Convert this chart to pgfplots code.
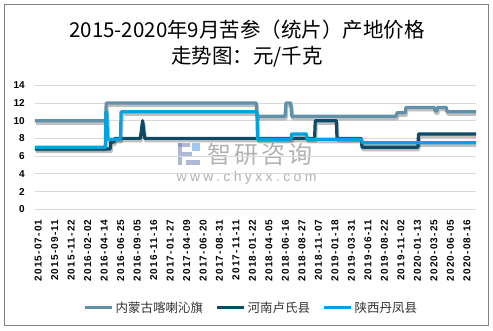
\documentclass[border=0pt]{standalone}
\usepackage{pgfplots}
\pgfplotsset{compat=1.18}
\usepackage{pgfplotstable}
\usepackage{fontspec}
\setmainfont{Liberation Sans}
\newfontfamily\cjk{Noto Sans CJK SC}
\newfontfamily\cjkwm{Noto Sans CJK SC}[LetterSpace=12]
\newfontfamily\tickfont{Liberation Sans}[LetterSpace=12]
\newfontfamily\wmfont{Liberation Sans}[LetterSpace=24]
\definecolor{sone}{RGB}{96,145,168}
\definecolor{stwo}{RGB}{12,74,102}
\definecolor{sthree}{RGB}{0,163,223}
\definecolor{gridgray}{RGB}{217,217,217}
\definecolor{framegray}{RGB}{130,130,130}
\definecolor{logoA}{RGB}{120,140,185}
\definecolor{logoB}{RGB}{120,180,230}

\pgfplotstableread{
x y
-14 10
294 10
297 12
952 12
955 10.5
1078 10.5
1082 12
1103 12
1107 10.5
1564 10.5
1567 10.9
1603 10.9
1606 11.5
1730 11.5
1733 11.1
1741 11.1
1744 11.5
1782 11.5
1785 11
1912 11
}\tabA
\pgfplotstableread{
x y
-14 6.8
314 6.8
317 7.6
331 7.6
334 8
446 8
456 10
465 8
1207 8
1210 10
1302 10
1305 8
1411 8
1414 7
1658 7
1661 8.5
1912 8.5
}\tabB
\pgfplotstableread{
x y
-14 7
293 7
296 11
299 11
303 7.9
359 7.9
362 11
955 11
958 7.9
1104 7.9
1107 8.5
1171 8.5
1174 7.9
1412 7.9
1415 7.5
1912 7.5
}\tabC

\begin{document}
\begin{tikzpicture}
\path[use as bounding box, fill=white] (0,0) rectangle (493bp,331bp);
\draw[framegray, line width=1bp] (4.5bp,5bp) rectangle (488.5bp,326.5bp);
% title
\node[font=\cjk\fontsize{20.5bp}{24bp}\selectfont] at (247bp,301bp) {2015-2020年9月苦参（统片）产地价格};
\node[font=\cjk\fontsize{20.5bp}{24bp}\selectfont] at (247bp,274.5bp) {走势图：元/千克};
% watermark
\fill[logoA, opacity=0.6] (178bp,166bp) rectangle (182bp,188bp);
\fill[logoA, opacity=0.6] (178bp,184bp) rectangle (190bp,188bp);
\fill[logoA, opacity=0.6] (182bp,175bp) rectangle (192bp,179bp);
\fill[logoB, opacity=0.7] (192bp,180bp) rectangle (200bp,188bp);
\fill[logoA, opacity=0.6] (186bp,166bp) rectangle (200bp,171bp);
\node[text=gray, opacity=0.6, font=\cjkwm\fontsize{24bp}{26bp}\selectfont] at (260bp,177bp) {智研咨询};
\node[text=gray, opacity=0.6, font=\wmfont\fontsize{14bp}{16bp}\selectfont] at (246.5bp,153bp) {www.chyxx.com};
\begin{axis}[
  at={(35bp,121.7bp)}, anchor=south west,
  scale only axis, width=441bp, height=124.1bp,
  xmin=-14, xmax=1912, ymin=0, ymax=14,
  ytick={0,2,...,14},
  xtick={0,72,...,1872},
  xticklabels={2015-07-01,2015-09-11,2015-11-22,2016-02-02,2016-04-14,2016-06-25,2016-09-05,2016-11-16,2017-01-27,2017-04-09,2017-06-20,2017-08-31,2017-11-11,2018-01-22,2018-04-05,2018-06-16,2018-08-27,2018-11-07,2019-01-18,2019-03-31,2019-06-11,2019-08-22,2019-11-02,2020-01-13,2020-03-25,2020-06-05,2020-08-16},
  ymajorgrids, grid style={color=gridgray, line width=0.8bp},
  axis line style={draw=none}, major tick length=0pt,
  /pgf/number format/assume math mode=true,
  yticklabel style={font=\bfseries\fontsize{10bp}{12bp}\selectfont, anchor=east, inner xsep=10bp},
  xticklabel style={font=\tickfont\bfseries\fontsize{10bp}{12bp}\selectfont, rotate=90, anchor=east, inner xsep=10bp, inner ysep=0pt},
  legend columns=3,
  legend style={at={(0.49,-0.793)}, anchor=center, draw=none, fill=none,
    font=\cjk\fontsize{12.5bp}{14bp}\selectfont, text=black!80,
    /tikz/every even column/.append style={column sep=11bp},
    nodes={inner sep=1.5bp}},
  legend image code/.code={\draw[#1, line width=3.5bp] (0bp,0bp) -- (27bp,0bp);},
  every axis plot/.append style={line width=3.2bp, line join=round},
]
\addplot[black, opacity=0.25, xshift=1bp, yshift=-2.5bp, forget plot] table[x=x,y=y] {\tabA};
\addplot[black, opacity=0.25, xshift=1bp, yshift=-2.5bp, forget plot] table[x=x,y=y] {\tabB};
\addplot[black, opacity=0.25, xshift=1bp, yshift=-2.5bp, forget plot] table[x=x,y=y] {\tabC};
\addplot[sone] table[x=x,y=y] {\tabA};
\addlegendentry{内蒙古喀喇沁旗}
\addplot[stwo] table[x=x,y=y] {\tabB};
\addlegendentry{河南卢氏县}
\addplot[sthree] table[x=x,y=y] {\tabC};
\addlegendentry{陕西丹凤县}
\end{axis}
\end{tikzpicture}
\end{document}
